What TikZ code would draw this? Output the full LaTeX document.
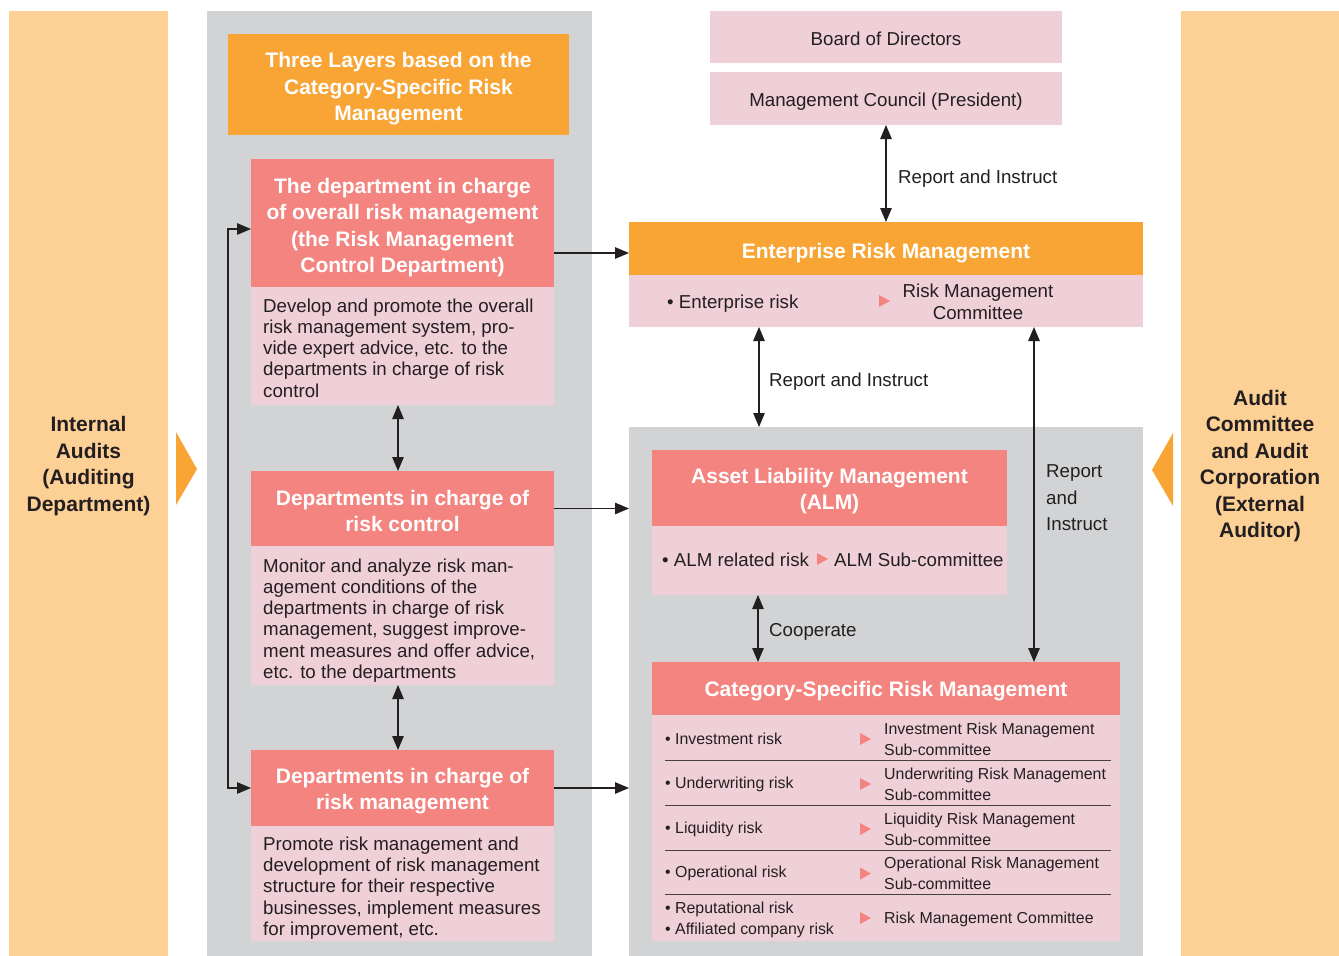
\documentclass[tikz,border=0pt]{standalone}
\usepackage{fontspec}
\setmainfont{Liberation Sans}
\usetikzlibrary{arrows.meta}
\definecolor{rmorange}{HTML}{F8A535}
\definecolor{rmpeach}{HTML}{FDD096}
\definecolor{rmgray}{HTML}{D1D3D4}
\definecolor{rmsalmon}{HTML}{F4847F}
\definecolor{rmpink}{HTML}{F0D0D8}
\definecolor{rmink}{HTML}{231F20}
\newcommand\hdfont{\fontsize{21}{26.5}\selectfont\bfseries}
\newcommand\bdfont{\fontsize{18.7}{21.2}\selectfont}
\newcommand\tbfont{\fontsize{15.9}{21}\selectfont}
\tikzset{
  panel/.style={rectangle, inner sep=0pt, outer sep=0pt, fill=#1},
  hdrtext/.style={inner sep=0pt, text=white, font=\hdfont, align=center},
  sidetext/.style={inner sep=0pt, text=rmink, font=\hdfont, align=center},
  bodytext/.style={inner sep=0pt, text=rmink, font=\bdfont, align=left, anchor=west},
  lbl/.style={inner sep=0pt, text=rmink, font=\bdfont, align=left, anchor=west},
  cell/.style={inner sep=0pt, text=rmink, font=\tbfont, align=left, anchor=west},
  tip/.style={Triangle[length=14pt,width=11.5pt]},
  conn/.style={draw=rmink, line width=1.2pt, {Triangle[length=14pt,width=11.5pt]}-{Triangle[length=14pt,width=11.5pt]}},
  oneway/.style={draw=rmink, line width=1.2pt, -{Triangle[length=14pt,width=11.5pt]}},
  rule/.style={draw=rmink!85, line width=1pt},
  ptri/.pic={\fill[rmsalmon] (-5,-6) -- (6,0) -- (-5,6) -- cycle;},
}
\begin{document}
\begin{tikzpicture}[x=1pt,y=-1pt]
\useasboundingbox (0,0) rectangle (1339,956);
\fill[white] (0,0) rectangle (1339,956);

% auditing bands on both sides
\node[panel=rmpeach, minimum width=159pt, minimum height=945pt] (ia) at (88.5,483.5) {};
\node[sidetext] (iat) at (88.5,466) {Internal\\Audits\\(Auditing\\Department)};
\node[panel=rmpeach, minimum width=158pt, minimum height=945pt] (ac) at (1260,483.5) {};
\node[sidetext] (act) at (1260,466) {Audit\\Committee\\and Audit\\Corporation\\(External\\Auditor)};
\fill[rmorange] (176,432) -- (197,469) -- (176,505) -- cycle;
\fill[rmorange] (1173,433) -- (1152,470) -- (1173,506) -- cycle;

% three layers
\node[panel=rmgray, minimum width=385pt, minimum height=945pt] (lp) at (399.5,483.5) {};
\node[panel=rmorange, minimum width=341pt, minimum height=101pt] (tl) at (398.5,84.5) {};
\node[hdrtext] (tlt) at (398.5,89) {Three Layers based on the\\Category-Specific Risk\\Management};

\node[panel=rmsalmon, minimum width=303pt, minimum height=128pt] (b1h) at (402.5,223) {};
\node[hdrtext] (b1ht) at (402.5,227.5) {The department in charge\\of overall risk management\\(the Risk Management\\Control Department)};
\node[panel=rmpink, minimum width=303pt, minimum height=118pt] (b1b) at (402.5,346) {};
\node[bodytext] (b1t) at (263,348)
  {Develop and promote the overall\\risk management system, pro-\\vide expert advice, etc. to the\\departments in charge of risk\\control};

\node[panel=rmsalmon, minimum width=303pt, minimum height=75pt] (b2h) at (402.5,508.5) {};
\node[hdrtext] (b2ht) at (402.5,511) {Departments in charge of\\risk control};
\node[panel=rmpink, minimum width=303pt, minimum height=139pt] (b2b) at (402.5,615.5) {};
\node[bodytext] (b2t) at (263,620.5)
  {Monitor and analyze risk man-\\agement conditions of the\\departments in charge of risk\\management, suggest improve-\\ment measures and offer advice,\\etc. to the departments};

\node[panel=rmsalmon, minimum width=303pt, minimum height=76pt] (b3h) at (402.5,788) {};
\node[hdrtext] (b3ht) at (402.5,791) {Departments in charge of\\risk management};
\node[panel=rmpink, minimum width=303pt, minimum height=115pt] (b3b) at (402.5,883.5) {};
\node[bodytext] (b3t) at (263,888)
  {Promote risk management and\\development of risk management\\structure for their respective\\businesses, implement measures\\for improvement, etc.};

% governance chain
\node[panel=rmpink, minimum width=352pt, minimum height=52pt] (bod) at (886,37) {};
\node[inner sep=0pt, text=rmink, font=\bdfont] (bodt) at (886,39) {Board of Directors};
\node[panel=rmpink, minimum width=352pt, minimum height=53pt] (mc) at (886,98.5) {};
\node[inner sep=0pt, text=rmink, font=\bdfont] (mct) at (886,101.5) {Management Council (President)};

\node[panel=rmorange, minimum width=514pt, minimum height=53pt] (erm) at (886,248.5) {};
\node[hdrtext] (ermt) at (886,253.5) {Enterprise Risk Management};
\node[panel=rmpink, minimum width=514pt, minimum height=52pt] (ermb) at (886,301) {};
\node[bodytext] (ermr) at (667,304) {• Enterprise risk};
\pic at (884,301) {ptri};
\node[inner sep=0pt, text=rmink, font=\fontsize{18.7}{22}\selectfont, align=center] (ermc) at (978,302) {Risk Management\\Committee};

% risk management by category
\node[panel=rmgray, minimum width=514pt, minimum height=529pt] (rp) at (886,691.5) {};

\node[panel=rmsalmon, minimum width=355pt, minimum height=76pt] (alm) at (829.5,488) {};
\node[hdrtext] (almt) at (829.5,491) {Asset Liability Management\\(ALM)};
\node[panel=rmpink, minimum width=355pt, minimum height=69pt] (almb) at (829.5,560.5) {};
\node[bodytext] (almr) at (662,560) {• ALM related risk};
\pic at (822,559) {ptri};
\node[bodytext] (almc) at (834,560) {ALM Sub-committee};

\node[panel=rmsalmon, minimum width=468pt, minimum height=53pt] (cat) at (886,688.5) {};
\node[hdrtext] (catt) at (886,691.5) {Category-Specific Risk Management};
\node[panel=rmpink, minimum width=468pt, minimum height=226pt] (catb) at (886,828) {};

\draw[rule] (665,760) -- (1111,760);
\draw[rule] (665,805) -- (1111,805);
\draw[rule] (665,850) -- (1111,850);
\draw[rule] (665,894) -- (1111,894);

\node[cell] (r1) at (665,739) {• Investment risk};
\pic at (865,739) {ptri};
\node[cell] (c1) at (884,739) {Investment Risk Management\\Sub-committee};
\node[cell] (r2) at (665,784) {• Underwriting risk};
\pic at (865,784) {ptri};
\node[cell] (c2) at (884,784) {Underwriting Risk Management\\Sub-committee};
\node[cell] (r3) at (665,829) {• Liquidity risk};
\pic at (865,829) {ptri};
\node[cell] (c3) at (884,829) {Liquidity Risk Management\\Sub-committee};
\node[cell] (r4) at (665,873.5) {• Operational risk};
\pic at (865,873.5) {ptri};
\node[cell] (c4) at (884,873.5) {Operational Risk Management\\Sub-committee};
\node[cell] (r5) at (665,920) {• Reputational risk\\• Affiliated company risk};
\pic at (865,918) {ptri};
\node[cell] (c5) at (884,919) {Risk Management Committee};

% connectors
\draw[conn] (mc.south) -- (erm.north);
\node[lbl] (l1) at (898,179) {Report and Instruct};

\draw[conn] ([xshift=-127pt]ermb.south) -- ([xshift=-127pt]ermb.south |- rp.north);
\node[lbl] (l2) at (769,382) {Report and Instruct};

\draw[conn] ([xshift=148pt]ermb.south) -- ([xshift=148pt]ermb.south |- cat.north);
\node[lbl, font=\fontsize{18.7}{26.5}\selectfont] (l3) at (1046,498) {Report\\and\\Instruct};

\draw[conn] ([xshift=-71.5pt]almb.south) -- ([xshift=-71.5pt]almb.south |- cat.north);
\node[lbl] (l4) at (769,632) {Cooperate};

\draw[conn] ([xshift=-4.5pt]b1b.south) -- ([xshift=-4.5pt]b2h.north);
\draw[conn] ([xshift=-4.5pt]b2b.south) -- ([xshift=-4.5pt]b3h.north);
\draw[conn] ([yshift=-6pt]b1h.west) -- ++(-23,0) |- (b3h.west);

\draw[oneway] ([yshift=-30pt]b1h.east) -- ([yshift=-30pt]b1h.east -| erm.west);
\draw[oneway] (b2h.east) -- (b2h.east -| rp.west);
\draw[oneway] (b3h.east) -- (b3h.east -| rp.west);
\end{tikzpicture}
\end{document}
